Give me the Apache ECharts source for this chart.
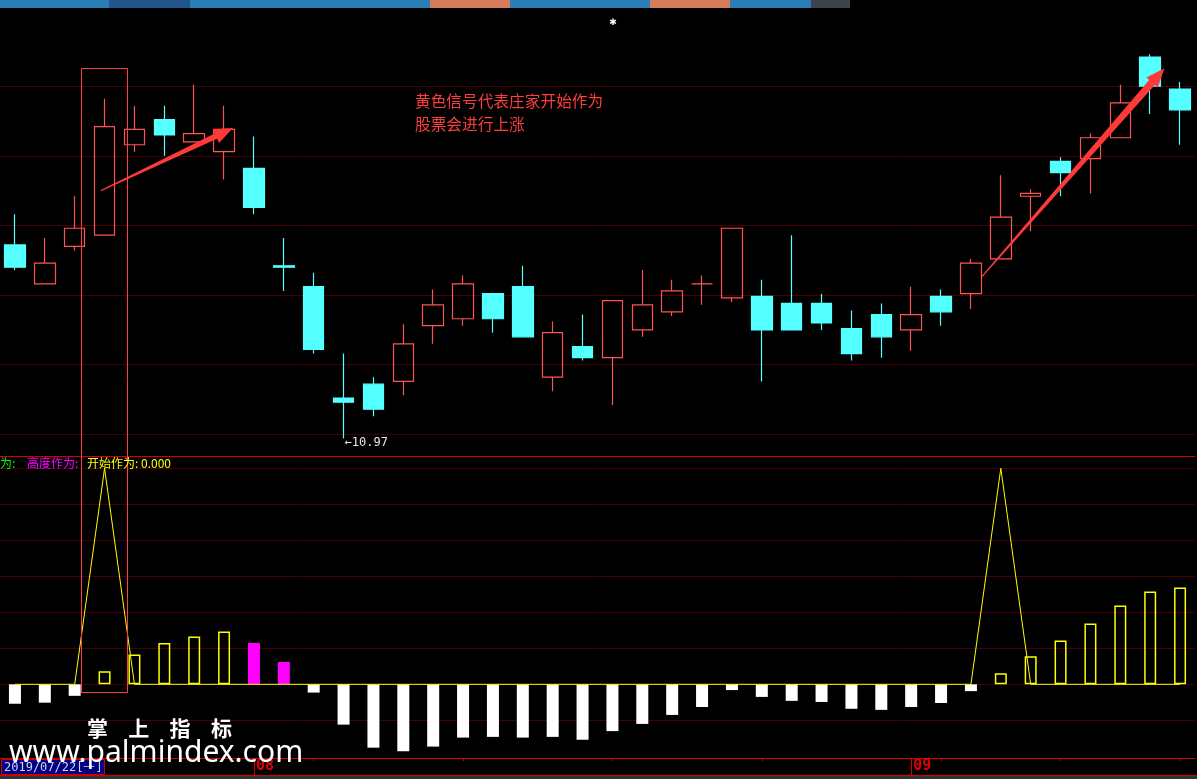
<!DOCTYPE html>
<html><head><meta charset="utf-8">
<script src="https://cdn.jsdelivr.net/npm/echarts@6/dist/echarts.min.js"></script>
<style>html,body{margin:0;padding:0;background:#000;overflow:hidden}#c{width:1197px;height:779px;}</style>
</head><body><div id="c"></div>
<script>
// ---- data ----
const dates = ['2019/07/22','2019/07/23','2019/07/24','2019/07/25','2019/07/26','2019/07/29','2019/07/30','2019/07/31',
'2019/08/01','2019/08/02','2019/08/05','2019/08/06','2019/08/07','2019/08/08','2019/08/09','2019/08/12','2019/08/13','2019/08/14','2019/08/15','2019/08/16',
'2019/08/19','2019/08/20','2019/08/21','2019/08/22','2019/08/23','2019/08/26','2019/08/27','2019/08/28','2019/08/29','2019/08/30',
'2019/09/02','2019/09/03','2019/09/04','2019/09/05','2019/09/06','2019/09/09','2019/09/10','2019/09/11','2019/09/12','2019/09/16'];
const openP  = [12.36,12.08,12.35,12.43,13.08,13.26,13.10,13.03,12.91,12.21,12.06,11.26,11.36,11.38,11.78,11.83,12.01,12.06,11.41,11.63,11.55,11.75,11.88,12.08,11.98,11.99,11.94,11.94,11.76,11.86,11.75,11.99,12.01,12.26,12.71,12.96,12.98,13.13,13.71,13.48];
const closeP = [12.20,12.23,12.48,13.21,13.19,13.15,13.16,13.19,12.63,12.20,11.61,11.23,11.18,11.65,11.93,12.08,11.83,11.70,11.73,11.55,11.96,11.93,12.03,12.08,12.48,11.75,11.75,11.80,11.58,11.70,11.86,11.88,12.23,12.56,12.73,12.88,13.13,13.38,13.50,13.33];
const highP  = [12.58,12.41,12.71,13.41,13.36,13.36,13.51,13.36,13.14,12.41,12.16,11.58,11.41,11.79,12.04,12.14,12.01,12.21,11.81,11.86,11.96,12.18,12.11,12.14,12.48,12.11,12.43,12.01,11.89,11.94,12.06,12.04,12.26,12.86,12.76,12.99,13.16,13.51,13.73,13.53];
const lowP   = [12.18,12.08,12.32,12.43,13.03,13.00,13.10,12.83,12.58,12.03,11.58,10.97,11.13,11.28,11.65,11.78,11.73,11.70,11.31,11.53,11.21,11.70,11.85,11.93,11.95,11.38,11.75,11.75,11.53,11.55,11.60,11.78,11.90,12.26,12.46,12.71,12.73,13.13,13.30,13.08];
const indBars = [-0.54,-0.51,-0.32,0.36,0.83,1.15,1.33,1.47,1.15,0.62,-0.23,-1.12,-1.76,-1.86,-1.73,-1.48,-1.46,-1.48,-1.46,-1.54,-1.30,-1.10,-0.85,-0.63,-0.16,-0.35,-0.46,-0.49,-0.68,-0.71,-0.63,-0.52,-0.19,0.31,0.78,1.22,1.69,2.19,2.58,2.69];
const indKind = ['W','W','W','Y','Y','Y','Y','Y','M','M','W','W','W','W','W','W','W','W','W','W','W','W','W','W','W','W','W','W','W','W','W','W','W','Y','Y','Y','Y','Y','Y','Y'];
const startLine = [0,0,0,6,0,0,0,0,0,0,0,0,0,0,0,0,0,0,0,0,0,0,0,0,0,0,0,0,0,0,0,0,0,6,0,0,0,0,0,0];
const priceGrid = [11, 11.5, 12, 12.5, 13, 13.5];
const indGrid = [-1, 0, 1, 2, 3, 4, 5, 6];
const weekTickIdx = [10, 15, 20, 25, 31, 35, 39];
const monthTickIdx = [8, 30];
const monthTickLabel = ['08', '09'];
const lowLabel = {idx: 11, price: 10.97, text: '←10.97'};
const arrowsDef = [{from: [2.87, 12.75], to: [7.30, 13.20], shaft: 2.8}, {from: [32.36, 12.13], to: [38.48, 13.63], shaft: 3.8}];
const boxDef = {fromIdx: 2.22, toIdx: 3.77, topPrice: 13.63, bottomInd: -0.22};

// ---- chart ----
const chart = echarts.init(document.getElementById('c'), null, {renderer: 'canvas'});
const RED = '#d40000', GRID = '#4a0000';
const candles = openP.map((o, i) => [o, closeP[i], lowP[i], highP[i]]);
const barData = indBars.map((v, i) => {
  const k = indKind[i];
  let st;
  if (k === 'W') st = {color: '#ffffff'};
  else if (k === 'M') st = {color: '#ff00ff'};
  else st = {color: 'rgba(0,0,0,0)', borderColor: '#ffff00', borderWidth: 1.5};
  return {value: v, itemStyle: st};
});

const option = {
  backgroundColor: '#000000',
  animation: false,
  grid: [
    {left: 0, right: 2, top: 9, bottom: 323},
    {left: 0, right: 2, top: 456, bottom: 21}
  ],
  xAxis: [
    {type: 'category', gridIndex: 0, position: 'bottom', data: dates, axisLine: {show: true, onZero: false, lineStyle: {color: RED}},
     axisTick: {show: false}, axisLabel: {show: false}, splitLine: {show: false}},
    {type: 'category', gridIndex: 1, position: 'bottom', data: dates, axisLine: {show: true, onZero: false, lineStyle: {color: RED}},
     axisTick: {show: true, alignWithLabel: true, length: 3, interval: (i) => weekTickIdx.includes(i), lineStyle: {color: RED}},
     axisLabel: {show: false}, splitLine: {show: false}},
    {type: 'category', gridIndex: 1, position: 'bottom', offset: 0, data: dates, axisLine: {show: false, onZero: false},
     axisTick: {show: true, alignWithLabel: true, length: 17, interval: (i) => monthTickIdx.includes(i), lineStyle: {color: RED}},
     axisLabel: {show: true, interval: (i) => monthTickIdx.includes(i), margin: 1, align: 'left', verticalAlign: 'top', padding: [0, 0, 0, 2],
       color: '#e00000', fontSize: 15, fontWeight: 'bold', fontFamily: 'DejaVu Sans Mono',
       formatter: (v, i) => { const k = monthTickIdx.indexOf(i); return k >= 0 ? monthTickLabel[k] : ''; }},
     splitLine: {show: false}}
  ],
  yAxis: [
    {type: 'value', gridIndex: 0, min: 10.844, max: 14.055, show: false, splitLine: {show: false}},
    {type: 'value', gridIndex: 1, min: -2.047, max: 6.342, show: false, splitLine: {show: false}}
  ],
  series: [
    {type: 'candlestick', xAxisIndex: 0, yAxisIndex: 0, data: candles, barWidth: 21, z: 3,
     itemStyle: {color: 'rgba(0,0,0,0)', color0: '#54ffff', borderColor: '#ff5454', borderColor0: '#54ffff', borderWidth: 1.2},
     emphasis: {disabled: true},
     markLine: {silent: true, symbol: 'none', z: 1, label: {show: false}, lineStyle: {color: GRID, type: 'solid', width: 1},
       emphasis: {disabled: true}, data: priceGrid.map(v => ({yAxis: v}))}},
    {type: 'bar', xAxisIndex: 1, yAxisIndex: 1, data: barData, barWidth: 12, z: 3, emphasis: {disabled: true},
     markLine: {silent: true, symbol: 'none', z: 1, label: {show: false}, lineStyle: {color: GRID, type: 'solid', width: 1},
       emphasis: {disabled: true}, data: indGrid.map(v => ({yAxis: v}))}},
    {type: 'line', xAxisIndex: 1, yAxisIndex: 1, data: startLine, symbol: 'none', z: 4,
     lineStyle: {color: '#ffff00', width: 1}, emphasis: {disabled: true}}
  ]
};
chart.setOption(option);

// ---- annotations positioned through the axes ----
function pMain(i, price) {
  const a = chart.convertToPixel({xAxisIndex: 0, yAxisIndex: 0}, [0, price]);
  const b = chart.convertToPixel({xAxisIndex: 0, yAxisIndex: 0}, [1, price]);
  return [a[0] + (b[0] - a[0]) * i, a[1]];
}
function pInd(i, v) {
  const a = chart.convertToPixel({xAxisIndex: 1, yAxisIndex: 1}, [0, v]);
  const b = chart.convertToPixel({xAxisIndex: 1, yAxisIndex: 1}, [1, v]);
  return [a[0] + (b[0] - a[0]) * i, a[1]];
}
function arrowPts(T, H, tailW, shaftW, headW, headL) {
  const dx = H[0] - T[0], dy = H[1] - T[1], len = Math.hypot(dx, dy);
  const ux = dx / len, uy = dy / len, nx = -uy, ny = ux;
  const B = [H[0] - ux * headL, H[1] - uy * headL];
  return [[T[0] + nx * tailW, T[1] + ny * tailW], [B[0] + nx * shaftW, B[1] + ny * shaftW], [B[0] + nx * headW, B[1] + ny * headW], H,
          [B[0] - nx * headW, B[1] - ny * headW], [B[0] - nx * shaftW, B[1] - ny * shaftW], [T[0] - nx * tailW, T[1] - ny * tailW]];
}
const g = [];
// toolbar
const toolbar = [[0,109,'#2b7db6'],[109,190,'#22568a'],[190,430,'#2b7db6'],[430,510,'#d87b5d'],[510,650,'#2b7db6'],[650,730,'#d87b5d'],[730,811,'#2b7db6'],[811,850,'#3d444b']];
toolbar.forEach(t => g.push({type: 'rect', z: 100, shape: {x: t[0], y: 0, width: t[1] - t[0], height: 8}, style: {fill: t[2]}}));
g.push({type: 'text', z: 100, x: 613, y: 23, style: {text: '✱', fill: '#ffffff', font: '9px "DejaVu Sans"', align: 'center', verticalAlign: 'middle'}});
// box
const bTL = pMain(boxDef.fromIdx, boxDef.topPrice), bBR = pInd(boxDef.toIdx, boxDef.bottomInd);
g.push({type: 'rect', z: 100, shape: {x: Math.round(bTL[0]) + 0.5, y: Math.round(bTL[1]) + 0.5, width: Math.round(bBR[0] - bTL[0]), height: Math.round(bBR[1] - bTL[1])},
  style: {fill: 'none', stroke: '#ff4040', lineWidth: 1}});
// arrows
arrowsDef.forEach(a => {
  const T = pMain(a.from[0], a.from[1]), H = pMain(a.to[0], a.to[1]);
  g.push({type: 'polygon', z: 100, shape: {points: arrowPts(T, H, 0.6, a.shaft, 7.5, 19)}, style: {fill: '#ff3838'}});
});
// annotation text
g.push({type: 'text', z: 100, x: 415, y: 101, style: {text: '黄色信号代表庄家开始作为', fill: '#ff3c3c', font: '15.7px "Noto Sans CJK SC"', verticalAlign: 'middle'}});
g.push({type: 'text', z: 100, x: 415, y: 124, style: {text: '股票会进行上涨', fill: '#ff3c3c', font: '15.7px "Noto Sans CJK SC"', verticalAlign: 'middle'}});
// low label
const lp = pMain(lowLabel.idx, lowLabel.price);
g.push({type: 'text', z: 100, x: lp[0] + 1, y: lp[1] + 4, style: {text: lowLabel.text, fill: '#e6e6e6', font: '12px "DejaVu Sans Mono"', verticalAlign: 'middle'}});
// indicator legend
g.push({type: 'text', z: 100, x: -12, y: 463, style: {text: '作为:', fill: '#00ff00', font: '12px "Noto Sans CJK SC"', verticalAlign: 'middle'}});
g.push({type: 'text', z: 100, x: 27, y: 463, style: {text: '高度作为:', fill: '#ff00ff', font: '12px "Noto Sans CJK SC"', verticalAlign: 'middle'}});
g.push({type: 'text', z: 100, x: 87, y: 463, style: {text: '开始作为: 0.000', fill: '#ffff00', font: '12px "Noto Sans CJK SC"', verticalAlign: 'middle'}});
// bottom band
g.push({type: 'line', z: 100, shape: {x1: 0, y1: 775.5, x2: 1197, y2: 775.5}, style: {stroke: RED, lineWidth: 1}});
g.push({type: 'rect', z: 100, shape: {x: 0, y: 776, width: 1197, height: 3}, style: {fill: '#333333'}});
g.push({type: 'rect', z: 101, shape: {x: 1.5, y: 759.5, width: 103, height: 15}, style: {fill: '#000080', stroke: RED, lineWidth: 1}});
g.push({type: 'text', z: 102, x: 4, y: 767.5, style: {text: dates[0] + '[一]', fill: '#d0d0f0', font: '12px "DejaVu Sans Mono"', verticalAlign: 'middle'}});
// watermark
['掌','上','指','标'].forEach((ch, k) => g.push({type: 'text', z: 103, x: 97.5 + k * 41.3, y: 728.5,
  style: {text: ch, fill: '#ffffff', font: 'bold 21px "Noto Sans CJK SC"', align: 'center', verticalAlign: 'middle'}}));
g.push({type: 'text', z: 103, x: 9, y: 753, style: {text: 'www.palmindex.com', fill: '#ffffff', font: '30px "Noto Sans"', verticalAlign: 'middle'}});
chart.setOption({graphic: g});
</script>
</body></html>
